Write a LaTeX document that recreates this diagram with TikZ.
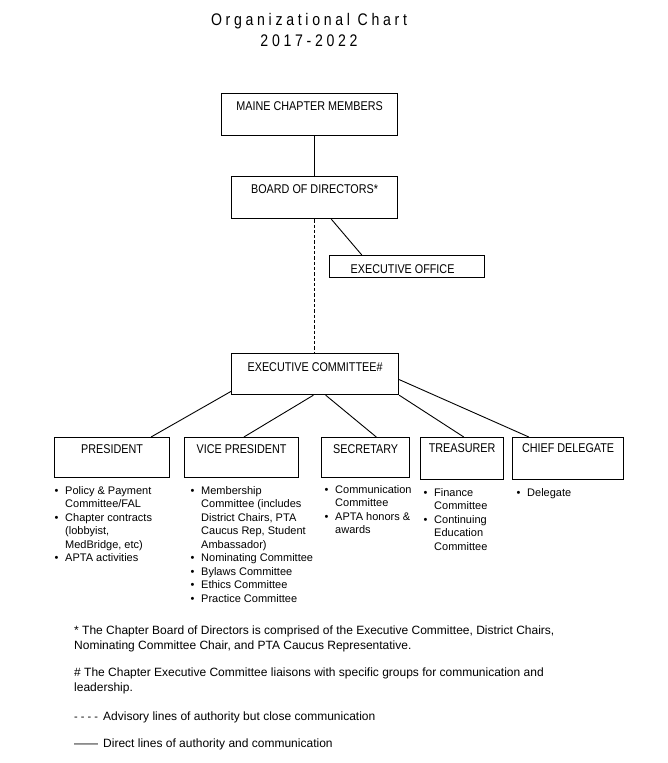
\documentclass[tikz,border=0pt]{standalone}
\usepackage{fontspec}
\setmainfont{Liberation Sans}
\newfontfamily\titlefont[LetterSpace=22,FakeStretch=0.84]{Liberation Sans}
\newfontfamily\boxfont[FakeStretch=0.85]{Liberation Sans}
\usetikzlibrary{calc}
\newcommand\bul{\makebox[10.5pt][l]{\textbullet}}
\newcommand\bcnt{\hspace*{10.5pt}}
\begin{document}
\begin{tikzpicture}[x=1pt,y=-1pt,
  box/.style={draw, line width=1.2pt, inner sep=0pt, anchor=north west,
    font=\boxfont\fontsize{12.7pt}{15pt}\selectfont},
  conn/.style={line width=0.9pt},
  advisory/.style={line width=0.9pt, dash pattern=on 3.3pt off 2pt},
  blist/.style={inner sep=0pt, align=left, anchor=north west,
    font=\fontsize{11pt}{13.5pt}\selectfont},
  note/.style={inner sep=0pt, align=left, anchor=north west,
    font=\fontsize{12pt}{14.5pt}\selectfont},
  legend/.style={inner sep=0pt, anchor=base west,
    font=\fontsize{12pt}{14.5pt}\selectfont},
  single/.style={inner sep=0pt, anchor=base west,
    font=\fontsize{11pt}{13.5pt}\selectfont}]
\fill[white] (0,0) rectangle (668,763);
\useasboundingbox (0,0) rectangle (668,763);

% title
\node[anchor=north, inner sep=0pt, align=center,
  font=\titlefont\fontsize{16.8pt}{21pt}\selectfont] (title) at (309,10.8)
  {\strut Organizational Chart\\2017-2022};

% boxes
\node[box, minimum width=176pt, text height=16.6pt, text depth=25.4pt] (members) at (221,93) {MAINE CHAPTER MEMBERS};
\node[box, minimum width=166pt, text height=16.6pt, text depth=25.4pt] (board) at (231,176) {BOARD OF DIRECTORS*};
\node[box, minimum width=155pt, text height=17.6pt, text depth=4.4pt] (office) at (329,255) {EXECUTIVE OFFICE\hspace*{9pt}};
\node[box, minimum width=167pt, text height=17.5pt, text depth=23.5pt] (execcom) at (231,353) {EXECUTIVE COMMITTEE\#};
\node[box, minimum width=115pt, text height=15.9pt, text depth=24.1pt] (pres) at (54,437) {PRESIDENT};
\node[box, minimum width=114pt, text height=15.9pt, text depth=24.1pt] (vp) at (184,437) {VICE PRESIDENT};
\node[box, minimum width=88pt, text height=15.9pt, text depth=24.1pt] (sec) at (321,437) {SECRETARY};
\node[box, minimum width=83pt, text height=14.9pt, text depth=27.1pt] (treas) at (420,437) {TREASURER};
\node[box, minimum width=111pt, text height=14.9pt, text depth=27.1pt] (chief) at (512,437) {CHIEF DELEGATE};

% connectors
\draw[conn] (members.south -| board.north) -- (board.north);
\draw[advisory] (board.south) -- (board.south |- execcom.north);
\draw[conn] ($(board.south west)!0.6!(board.south east)$) -- ($(office.north west)!0.21!(office.north east)$);
\draw[conn] ($(execcom.north west)!0.91!(execcom.south west)$) -- ($(pres.north west)!0.835!(pres.north east)$);
\draw[conn] ($(execcom.south west)!0.49!(execcom.south east)$) -- ($(vp.north west)!0.52!(vp.north east)$);
\draw[conn] ($(execcom.south west)!0.563!(execcom.south east)$) -- ($(sec.north west)!0.62!(sec.north east)$);
\draw[conn] (execcom.south east) -- ($(treas.north west)!0.52!(treas.north east)$);
\draw[conn] ($(execcom.north east)!0.63!(execcom.south east)$) -- ($(chief.north west)!0.15!(chief.north east)$);

% bullet lists
\node[blist] (preslist) at (54.5,484.55) {\strut\bul Policy \& Payment\\ \bcnt Committee/FAL\\ \bul Chapter contracts\\ \bcnt (lobbyist,\\ \bcnt MedBridge, etc)\\ \bul APTA activities};
\node[blist] (vplist) at (190.5,484.55) {\strut\bul Membership\\ \bcnt Committee (includes\\ \bcnt District Chairs, PTA\\ \bcnt Caucus Rep, Student\\ \bcnt Ambassador)\\ \bul Nominating Committee\\ \bul Bylaws Committee\\ \bul Ethics Committee\\ \bul Practice Committee};
\node[blist] (seclist) at (324.5,483.55) {\strut\bul Communication\\ \bcnt Committee\\ \bul APTA honors \&\\ \bcnt awards};
\node[blist] (treaslist) at (423.5,486.55) {\strut\bul Finance\\ \bcnt Committee\\ \bul Continuing\\ \bcnt Education\\ \bcnt Committee};
\node[single] (chieflist) at (516.5,496) {\bul Delegate};

% notes
\node[note] (note1) at (74,624.35) {\strut * The Chapter Board of Directors is comprised of the Executive Committee, District Chairs,\\ Nominating Committee Chair, and PTA Caucus Representative.};
\node[note] (note2) at (74,666.35) {\strut \# The Chapter Executive Committee liaisons with specific groups for communication and\\ leadership.};
\node[legend] (leg1) at (74,720) {\makebox[29pt][l]{\fontsize{11pt}{13pt}\selectfont - - - -}Advisory lines of authority but close communication};
\node[legend] (leg2) at (74,747.5) {\makebox[29pt][l]{——}Direct lines of authority and communication};
\end{tikzpicture}
\end{document}
